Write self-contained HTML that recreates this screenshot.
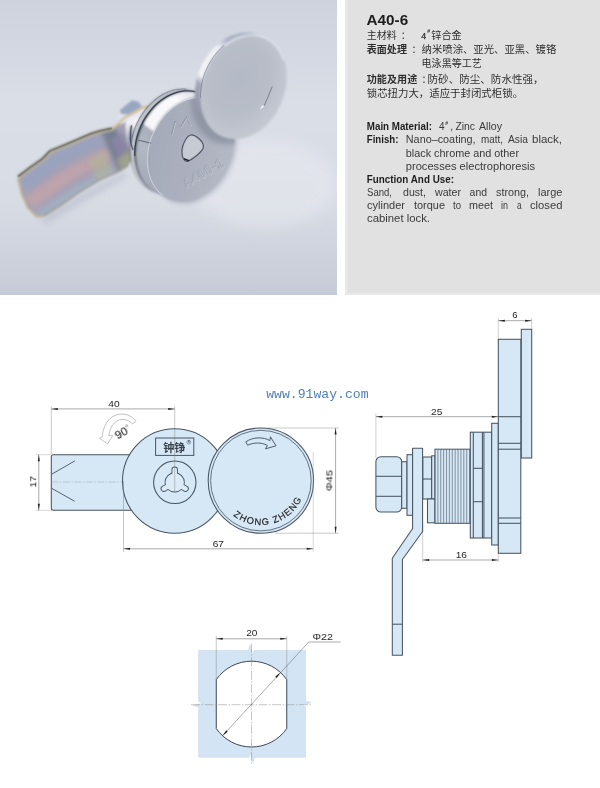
<!DOCTYPE html>
<html lang="zh"><head><meta charset="utf-8"><title>A40-6</title>
<style>
html,body{margin:0;padding:0;background:#fff}
body{width:600px;height:788px;overflow:hidden;position:relative;font-family:"Liberation Sans",sans-serif}
svg{position:absolute;left:0;top:0;display:block}
text{white-space:pre;filter:url(#idf)}
</style></head><body>
<svg width="600" height="788" viewBox="0 0 600 788" style="opacity:0.999">
<defs>
<filter id="idf" x="-5%" y="-50%" width="110%" height="200%" color-interpolation-filters="sRGB"><feOffset dx="0" dy="0"/></filter>

<clipPath id="pc"><rect x="0" y="0" width="337" height="295"/></clipPath>
<linearGradient id="bg" x1="0" y1="0" x2="0" y2="1">
 <stop offset="0" stop-color="#cdd2dd"/><stop offset="0.15" stop-color="#d2d7e1"/>
 <stop offset="0.35" stop-color="#dadee7"/><stop offset="0.68" stop-color="#d8dce5"/>
 <stop offset="0.81" stop-color="#d0d5df"/><stop offset="0.93" stop-color="#cacfda"/><stop offset="1" stop-color="#c5cad6"/>
</linearGradient>
<filter id="b1" x="-10%" y="-10%" width="120%" height="120%"><feGaussianBlur stdDeviation="0.8"/></filter>
<filter id="b2" x="-30%" y="-30%" width="160%" height="160%"><feGaussianBlur stdDeviation="2"/></filter>
<filter id="b3" x="-30%" y="-30%" width="160%" height="160%"><feGaussianBlur stdDeviation="3.5"/></filter>
<filter id="b6" x="-40%" y="-40%" width="180%" height="180%"><feGaussianBlur stdDeviation="7"/></filter>
<linearGradient id="face1" x1="0.1" y1="0.6" x2="1" y2="0.4">
 <stop offset="0" stop-color="#a6abba"/><stop offset="0.5" stop-color="#acb0be"/><stop offset="1" stop-color="#b4b9c5"/>
</linearGradient>
<radialGradient id="face2" cx="0.42" cy="0.45" r="0.62">
 <stop offset="0" stop-color="#b4b9c6"/><stop offset="0.55" stop-color="#b8bdc8"/><stop offset="1" stop-color="#c6cad3"/>
</radialGradient>
<linearGradient id="rim1" gradientUnits="userSpaceOnUse" x1="172" y1="92" x2="150" y2="195">
 <stop offset="0" stop-color="#dfe2ea"/><stop offset="0.15" stop-color="#fafafc"/><stop offset="0.51" stop-color="#f6f7f9"/>
 <stop offset="0.525" stop-color="#a9aebc"/><stop offset="0.7" stop-color="#b3b8c4"/><stop offset="1" stop-color="#a3a8b7"/>
</linearGradient>
<linearGradient id="rim2" gradientUnits="userSpaceOnUse" x1="228" y1="32" x2="205" y2="125">
 <stop offset="0" stop-color="#a9b1c4"/><stop offset="0.2" stop-color="#aab2c5"/><stop offset="0.32" stop-color="#eef0f4"/><stop offset="0.66" stop-color="#f2f3f6"/><stop offset="0.74" stop-color="#a2a7b6"/><stop offset="1" stop-color="#9095a5"/>
</linearGradient>
<linearGradient id="cyl" gradientUnits="userSpaceOnUse" x1="140" y1="105" x2="150" y2="158">
 <stop offset="0" stop-color="#dfe2e9"/><stop offset="0.3" stop-color="#f0f1f5"/><stop offset="0.55" stop-color="#b5bac6"/><stop offset="0.8" stop-color="#8f95a3"/><stop offset="1" stop-color="#a8adb9"/>
</linearGradient>
<clipPath id="lf"><ellipse cx="190.8" cy="149.5" rx="41.5" ry="54.5" transform="rotate(24 190.8 149.5)"/></clipPath>
<clipPath id="camc"><path id="camp" d="M18 176 L30 167 L42 158.5 L50 150 L66 143.5 L90 133.3 L100 130 L112 127.5 L117 125 L124 118 L130 116 C126 128 127 146 133 158 L128 166 L120 171 L100 180 L80 192 L60 206 L44 216 Q38 218.5 35 216 L27 208 L21 194 L17.5 181 Z"/></clipPath>

<path id="zz" d="M233.14 515.50 A44.60 44.60 0 0 0 301.32 499.45"/>
</defs>
<g clip-path="url(#pc)"><rect x="0" y="0" width="337" height="295" fill="url(#bg)"/><ellipse cx="265" cy="185" rx="70" ry="45" fill="#fff" opacity="0.22" filter="url(#b6)"/><ellipse cx="193" cy="151.5" rx="41.5" ry="54.5" transform="rotate(24 193 151.5)" fill="#8d93a5" opacity="0.4" filter="url(#b2)"/><path d="M40 219 L80 195 L125 172 L128 176 L82 202 L46 223 Z" fill="#9aa0b2" opacity="0.4" filter="url(#b3)"/><g filter="url(#b1)"><use href="#camp" fill="#a5a1b4"/><g clip-path="url(#camc)"><path d="M20 180 L60 150 L100 134 L104 144 L60 166 L26 192 Z" fill="#9aa3bd" filter="url(#b2)"/><path d="M24 198 L64 170 L108 148 L112 158 L70 182 L34 208 Z" fill="#bda3ab" filter="url(#b2)"/><path d="M34 213 L74 187 L112 166 L116 174 L60 207 L40 219 Z" fill="#a3adc0" filter="url(#b2)"/><path d="M88 160 L104 150 L112 172 L96 181 Z" fill="#b4b496" opacity="0.6" filter="url(#b2)"/><path d="M101 131 L114 127 L134 158 L118 171 Z" fill="#6f7d90" opacity="0.9" filter="url(#b2)"/><path d="M110 140 L124 132 L131 150 L120 160 Z" fill="#8e86a6" opacity="0.8" filter="url(#b2)"/><path d="M116 160 L130 150 L134 160 L122 170 Z" fill="#b0b188" opacity="0.7" filter="url(#b2)"/></g><path d="M18 176.5 L30 167.5 L42 159 L50 150.8 L66 144.3 L90 134 L100 130.8 L112 128.2" fill="none" stroke="#7f7f6c" stroke-width="2.4" stroke-linejoin="round"/><path d="M19 178.6 L31 169.6 L43 161.1 L51 152.8 L67 146.2 L91 136 L101 132.8 L112.6 130.2" fill="none" stroke="#cbbf9e" stroke-width="1.1" stroke-linejoin="round"/><path d="M18 177 L21.5 194 L27.5 207.5 L35.5 215.8 Q38.5 218 44 215.6" fill="none" stroke="#c4b993" stroke-width="1.8" stroke-linejoin="round"/><path d="M44 216 L60 206 L80 192 L100 180 L120 171 L128 166" fill="none" stroke="#98967c" stroke-width="1.2" opacity="0.9"/><path d="M119.8 110.2 L132 100.3 L139 102 L142 107 L128.5 114.5 L121.5 114 Z" fill="#98a7c0"/><path d="M118 115 L128.5 114.5 L142 107 L146 112 L122 124 L116 124 Z" fill="#dfe2ea"/><path d="M126 122 C132 112 146 105.5 165 106 L154 150 C146 158 139 161 133.5 159 C128 150 124 134 126 122 Z" fill="url(#cyl)"/><path d="M131.5 125.5 C129.5 135 130.5 144 133 150" fill="none" stroke="#3e4658" stroke-width="1.5"/><path d="M136 118 C134 130 134.5 143 137 152" fill="none" stroke="#f6f7f9" stroke-width="2.6" opacity="0.9"/><path d="M112.6 128.6 L117 125 L124 118 L136.7 111.3 L141 108.2 L152 105.3" fill="none" stroke="#d3bd96" stroke-width="2.4" stroke-linejoin="round" stroke-linecap="round"/><ellipse cx="174.3" cy="141.5" rx="41.5" ry="54.5" transform="rotate(24 174.3 141.5)" fill="#39414f"/><ellipse cx="175.0" cy="141.8" rx="41.5" ry="54.5" transform="rotate(24 175.0 141.8)" fill="#d3d7e0"/><ellipse cx="178.0" cy="143.0" rx="41.5" ry="54.5" transform="rotate(24 178.0 143.0)" fill="#2b3342"/><ellipse cx="179.9" cy="144" rx="41.5" ry="54.5" transform="rotate(24 179.9 144)" fill="url(#rim1)"/><ellipse cx="190.8" cy="149.5" rx="41.5" ry="54.5" transform="rotate(24 190.8 149.5)" fill="url(#face1)"/><g clip-path="url(#lf)"><ellipse cx="236" cy="90" rx="43" ry="56" transform="rotate(22.5 236 90)" fill="#7f8595" opacity="0.6" filter="url(#b2)"/></g><path d="M190.5 135 C195 134 203 141 203.5 146 C204 151 192 160 187 161.5 C182 161 181 152 182.5 147 C184 142 187 136 190.5 135 Z" fill="#c6cad3"/></g><path d="M134.70 155.47 L134.75 151.19 L135.09 146.86 L135.73 142.50 L136.67 138.15 L137.90 133.84 L139.41 129.59 L141.18 125.44 L143.21 121.41 L145.49 117.53 L147.99 113.83 L150.70 110.33 L153.61 107.06 L156.68 104.04 L159.91 101.29 L163.27 98.83 L166.73 96.67 L170.27 94.84 L173.87 93.34 L177.50 92.18 L181.14 91.38 L184.76 90.93 L188.34 90.84 L191.85 91.11 L195.28 91.75" fill="none" stroke="#2b3342" stroke-width="1.3" opacity="0.85" stroke-linecap="round"/><path d="M131.94 138.08 L132.79 134.66 L133.82 131.26 L135.02 127.91 L136.39 124.62 L137.92 121.40 L139.61 118.27 L141.44 115.23 L143.42 112.31 L145.53 109.51 L147.76 106.85 L150.10 104.34 L152.55 101.99 L155.09 99.80 L157.72 97.80 L160.41 95.98 L163.17 94.36 L165.97 92.94 L168.81 91.72 L171.67 90.72 L174.54 89.94 L177.41 89.38 L180.27 89.04 L183.10 88.93 L185.90 89.04" fill="none" stroke="#4a5263" stroke-width="0.7" opacity="0.7" stroke-linecap="round"/><path d="M138.5 140.2 L151 143.2" stroke="#4b5262" stroke-width="0.9" fill="none" opacity="0.85"/><path d="M162.61 195.27 L158.91 192.01 L155.65 188.16 L152.88 183.77 L150.63 178.91 L148.94 173.64 L147.83 168.04 L147.32 162.18 L147.41 156.14 L148.10 150.01 L149.38 143.88 L151.24 137.82 L153.64 131.92 L156.56 126.27 L159.96 120.94 L163.78 116.01 L167.98 111.54 L172.49 107.59 L177.26 104.23 L182.21 101.50 L187.29 99.43 L192.41 98.05 L197.51 97.39 L202.52 97.45 L207.36 98.23" fill="none" stroke="#e4e6ec" stroke-width="0.8" opacity="0.8"/><path d="M131.5 125.5 C129.5 135 130.5 144 133 150" fill="none" stroke="#3e4658" stroke-width="1.2" opacity="0.8"/><path d="M18 176.5 L30 167.5 L42 159 L50 150.8 L66 144.3 L90 134 L100 130.8 L112 128.2" fill="none" stroke="#77776a" stroke-width="1.4" stroke-linejoin="round" opacity="0.75"/><path d="M171.5 135 L175 121.5 L180.5 127 L186.5 117 L190.5 125" fill="none" stroke="#8a90a0" stroke-width="1.2" stroke-linejoin="round" opacity="0.8"/><path d="M172.3 135.8 L175.8 122.3 L181.3 127.8 L187.3 117.8 L191.3 125.8" fill="none" stroke="#d0d3dc" stroke-width="0.7" stroke-linejoin="round" opacity="0.8"/><path d="M190.5 135 C195 134 203 141 203.5 146 C204 151 192 160 187 161.5 C182 161 181 152 182.5 147 C184 142 187 136 190.5 135 Z" fill="none" stroke="#454b5a" stroke-width="1.2" opacity="0.9"/><path d="M184 158.8 L189 160.8" stroke="#22262e" stroke-width="1.5" fill="none"/><g transform="translate(185.5 187.5) rotate(-29)" opacity="0.85"><text x="0" y="0" font-family="Liberation Sans, sans-serif" font-size="12" font-weight="bold" fill="none" stroke="#8f95a5" stroke-width="0.7" textLength="44">A400-1</text><text x="0.7" y="0.7" font-family="Liberation Sans, sans-serif" font-size="12" font-weight="bold" fill="none" stroke="#ccd0da" stroke-width="0.4" textLength="44">A400-1</text></g><g filter="url(#b1)"><ellipse cx="237.8" cy="85" rx="41.1" ry="54.2" transform="rotate(22.5 237.8 85)" fill="url(#rim2)"/><ellipse cx="243.6" cy="86.7" rx="41.1" ry="54.2" transform="rotate(22.5 243.6 86.7)" fill="url(#face2)"/><path d="M224.82 45.77 L227.55 43.65 L230.37 41.74 L233.24 40.05 L236.17 38.60 L239.14 37.38 L242.13 36.42 L245.12 35.70 L248.11 35.23 L251.07 35.02 L254.00 35.07 L256.88 35.38 L259.69 35.94 L262.42 36.75 L265.06 37.81 L267.59 39.11 L270.00 40.65 L272.28 42.42 L274.41 44.42 L276.40 46.62 L278.22 49.02 L279.87 51.60 L281.33 54.36 L282.61 57.29 L283.70 60.36" fill="none" stroke="#e6e8ee" stroke-width="1.6" opacity="0.9"/></g><path d="M200.44 98.10 L200.44 95.71 L200.54 93.30 L200.72 90.88 L201.00 88.44 L201.37 86.00 L201.84 83.57 L202.39 81.14 L203.03 78.72 L203.76 76.32 L204.58 73.94 L205.48 71.59 L206.47 69.28 L207.53 67.00 L208.67 64.76 L209.89 62.57 L211.18 60.43 L212.54 58.35 L213.97 56.33 L215.47 54.38 L217.02 52.50 L218.63 50.69 L220.30 48.96 L222.01 47.31 L223.77 45.74" fill="none" stroke="#757b8e" stroke-width="0.8" opacity="0.85"/><path d="M272.3 86.5 L264.2 105.8" stroke="#737989" stroke-width="1.0" fill="none" opacity="0.9"/><path d="M264.4 106 L259.6 110 L262.0 105.4 Z" fill="#f6f6f8"/></g>
<rect x="345" y="0" width="255" height="295" fill="#e1e1e1"/>
<rect x="345" y="0" width="2.6" height="295" fill="#e8e8e8"/>
<rect x="345" y="292.8" width="255" height="2.2" fill="#e8e8e8"/>
<text x="366.60" y="25.20" font-family="Liberation Sans, sans-serif" font-size="15" font-weight="bold" fill="#1c1c1c" text-anchor="start" textLength="41.60" lengthAdjust="spacingAndGlyphs" >A40-6</text>
<text x="366.75" y="39.40" font-family="'Liberation Sans', 'Noto Sans CJK SC', sans-serif" font-size="10" fill="#2e2e2e" text-anchor="start" textLength="29.90" lengthAdjust="spacingAndGlyphs">主材料</text>
<text x="400.81" y="39.40" font-family="'Liberation Sans', 'Noto Sans CJK SC', sans-serif" font-size="10" fill="#2e2e2e" text-anchor="start">：</text>
<text x="421.20" y="38.50" font-family="Liberation Sans, sans-serif" font-size="8.8" font-weight="normal" fill="#2e2e2e" text-anchor="start" stroke="#2e2e2e" stroke-width="0.25">4</text>
<text x="427.20" y="33.20" font-family="Liberation Sans, sans-serif" font-size="5" font-weight="bold" fill="#2e2e2e" text-anchor="start" >#</text>
<text x="431.35" y="39.40" font-family="'Liberation Sans', 'Noto Sans CJK SC', sans-serif" font-size="10" fill="#2e2e2e" text-anchor="start" textLength="30.30" lengthAdjust="spacingAndGlyphs">锌合金</text>
<text x="366.75" y="53.40" font-family="'Liberation Sans', 'Noto Sans CJK SC', sans-serif" font-size="10" font-weight="bold" fill="#2e2e2e" text-anchor="start" textLength="40.20" lengthAdjust="spacingAndGlyphs">表面处理</text>
<text x="411.41" y="53.40" font-family="'Liberation Sans', 'Noto Sans CJK SC', sans-serif" font-size="10" fill="#2e2e2e" text-anchor="start">：</text>
<text x="421.55" y="53.40" font-family="'Liberation Sans', 'Noto Sans CJK SC', sans-serif" font-size="10" fill="#2e2e2e" text-anchor="start" textLength="134.70" lengthAdjust="spacingAndGlyphs">纳米喷涂、亚光、亚黑、镀铬</text>
<text x="421.55" y="67.20" font-family="'Liberation Sans', 'Noto Sans CJK SC', sans-serif" font-size="10" fill="#2e2e2e" text-anchor="start" textLength="60.30" lengthAdjust="spacingAndGlyphs">电泳黑等工艺</text>
<text x="366.75" y="83.40" font-family="'Liberation Sans', 'Noto Sans CJK SC', sans-serif" font-size="10" font-weight="bold" fill="#2e2e2e" text-anchor="start" textLength="50.50" lengthAdjust="spacingAndGlyphs">功能及用途</text>
<text x="421.41" y="83.40" font-family="'Liberation Sans', 'Noto Sans CJK SC', sans-serif" font-size="10" fill="#2e2e2e" text-anchor="start">：</text>
<text x="427.55" y="83.40" font-family="'Liberation Sans', 'Noto Sans CJK SC', sans-serif" font-size="10" fill="#2e2e2e" text-anchor="start" textLength="116.10" lengthAdjust="spacingAndGlyphs">防砂、防尘、防水性强，</text>
<text x="366.75" y="97.40" font-family="'Liberation Sans', 'Noto Sans CJK SC', sans-serif" font-size="10" fill="#2e2e2e" text-anchor="start" textLength="156.30" lengthAdjust="spacingAndGlyphs">锁芯扭力大，适应于封闭式柜锁。</text>
<text x="366.80" y="130.00" font-family="Liberation Sans, sans-serif" font-size="10" font-weight="bold" fill="#1e1e1e" text-anchor="start" textLength="65.20" lengthAdjust="spacingAndGlyphs" >Main Material:</text>
<text x="439.00" y="130.00" font-family="Liberation Sans, sans-serif" font-size="10" font-weight="normal" fill="#3a3a3a" text-anchor="start" >4</text>
<text x="445.30" y="124.60" font-family="Liberation Sans, sans-serif" font-size="5" font-weight="bold" fill="#3a3a3a" text-anchor="start" >#</text>
<text x="450.20" y="130.00" font-family="Liberation Sans, sans-serif" font-size="10" font-weight="normal" fill="#3a3a3a" text-anchor="start" >,</text>
<text x="455.40" y="130.00" font-family="Liberation Sans, sans-serif" font-size="10" font-weight="normal" fill="#3a3a3a" text-anchor="start" textLength="19.60" lengthAdjust="spacingAndGlyphs" >Zinc</text>
<text x="479.00" y="130.00" font-family="Liberation Sans, sans-serif" font-size="10" font-weight="normal" fill="#3a3a3a" text-anchor="start" textLength="23.00" lengthAdjust="spacingAndGlyphs" >Alloy</text>
<text x="366.80" y="143.30" font-family="Liberation Sans, sans-serif" font-size="10" font-weight="bold" fill="#1e1e1e" text-anchor="start" textLength="31.60" lengthAdjust="spacingAndGlyphs" >Finish:</text>
<text x="405.80" y="143.30" font-family="Liberation Sans, sans-serif" font-size="10" font-weight="normal" fill="#3a3a3a" text-anchor="start" textLength="69.80" lengthAdjust="spacingAndGlyphs" >Nano–coating,</text>
<text x="481.00" y="143.30" font-family="Liberation Sans, sans-serif" font-size="10" font-weight="normal" fill="#3a3a3a" text-anchor="start" textLength="22.00" lengthAdjust="spacingAndGlyphs" >matt,</text>
<text x="508.00" y="143.30" font-family="Liberation Sans, sans-serif" font-size="10" font-weight="normal" fill="#3a3a3a" text-anchor="start" textLength="20.00" lengthAdjust="spacingAndGlyphs" >Asia</text>
<text x="532.00" y="143.30" font-family="Liberation Sans, sans-serif" font-size="10" font-weight="normal" fill="#3a3a3a" text-anchor="start" textLength="30.00" lengthAdjust="spacingAndGlyphs" >black,</text>
<text x="405.80" y="156.80" font-family="Liberation Sans, sans-serif" font-size="10" font-weight="normal" fill="#3a3a3a" text-anchor="start" textLength="113.20" lengthAdjust="spacingAndGlyphs" >black chrome and other</text>
<text x="405.80" y="170.20" font-family="Liberation Sans, sans-serif" font-size="10" font-weight="normal" fill="#3a3a3a" text-anchor="start" textLength="129.20" lengthAdjust="spacingAndGlyphs" >processes electrophoresis</text>
<text x="366.80" y="183.00" font-family="Liberation Sans, sans-serif" font-size="10" font-weight="bold" fill="#1e1e1e" text-anchor="start" textLength="87.20" lengthAdjust="spacingAndGlyphs" >Function And Use:</text>
<text x="367.00" y="196.00" font-family="Liberation Sans, sans-serif" font-size="10" font-weight="normal" fill="#3a3a3a" text-anchor="start" textLength="25.00" lengthAdjust="spacingAndGlyphs" >Sand,</text>
<text x="403.00" y="196.00" font-family="Liberation Sans, sans-serif" font-size="10" font-weight="normal" fill="#3a3a3a" text-anchor="start" textLength="23.00" lengthAdjust="spacingAndGlyphs" >dust,</text>
<text x="435.00" y="196.00" font-family="Liberation Sans, sans-serif" font-size="10" font-weight="normal" fill="#3a3a3a" text-anchor="start" textLength="26.00" lengthAdjust="spacingAndGlyphs" >water</text>
<text x="469.60" y="196.00" font-family="Liberation Sans, sans-serif" font-size="10" font-weight="normal" fill="#3a3a3a" text-anchor="start" textLength="17.40" lengthAdjust="spacingAndGlyphs" >and</text>
<text x="496.00" y="196.00" font-family="Liberation Sans, sans-serif" font-size="10" font-weight="normal" fill="#3a3a3a" text-anchor="start" textLength="33.00" lengthAdjust="spacingAndGlyphs" >strong,</text>
<text x="538.00" y="196.00" font-family="Liberation Sans, sans-serif" font-size="10" font-weight="normal" fill="#3a3a3a" text-anchor="start" textLength="24.40" lengthAdjust="spacingAndGlyphs" >large</text>
<text x="367.00" y="209.00" font-family="Liberation Sans, sans-serif" font-size="10" font-weight="normal" fill="#3a3a3a" text-anchor="start" textLength="38.00" lengthAdjust="spacingAndGlyphs" >cylinder</text>
<text x="414.00" y="209.00" font-family="Liberation Sans, sans-serif" font-size="10" font-weight="normal" fill="#3a3a3a" text-anchor="start" textLength="31.00" lengthAdjust="spacingAndGlyphs" >torque</text>
<text x="453.00" y="209.00" font-family="Liberation Sans, sans-serif" font-size="10" font-weight="normal" fill="#3a3a3a" text-anchor="start" textLength="8.00" lengthAdjust="spacingAndGlyphs" >to</text>
<text x="469.00" y="209.00" font-family="Liberation Sans, sans-serif" font-size="10" font-weight="normal" fill="#3a3a3a" text-anchor="start" textLength="24.00" lengthAdjust="spacingAndGlyphs" >meet</text>
<text x="501.00" y="209.00" font-family="Liberation Sans, sans-serif" font-size="10" font-weight="normal" fill="#3a3a3a" text-anchor="start" textLength="7.00" lengthAdjust="spacingAndGlyphs" >in</text>
<text x="517.00" y="209.00" font-family="Liberation Sans, sans-serif" font-size="10" font-weight="normal" fill="#3a3a3a" text-anchor="start" textLength="4.60" lengthAdjust="spacingAndGlyphs" >a</text>
<text x="530.00" y="209.00" font-family="Liberation Sans, sans-serif" font-size="10" font-weight="normal" fill="#3a3a3a" text-anchor="start" textLength="32.40" lengthAdjust="spacingAndGlyphs" >closed</text>
<text x="367.00" y="221.80" font-family="Liberation Sans, sans-serif" font-size="10" font-weight="normal" fill="#3a3a3a" text-anchor="start" textLength="63.00" lengthAdjust="spacingAndGlyphs" >cabinet lock.</text>
<text x="266.20" y="398.00" font-family="Liberation Mono, sans-serif" font-size="13.1" font-weight="normal" fill="#4f7fb3" text-anchor="start" textLength="102.40" lengthAdjust="spacingAndGlyphs" >www.91way.com</text>
<path d="M178 454.7 H53.3 Q51.3 454.7 51.3 456.7 V508.3 Q51.3 510.3 53.3 510.3 H178 Z" fill="#d6e7f6" stroke="#485563" stroke-width="1.05" />
<line x1="51.30" y1="482.00" x2="124.00" y2="482.00" stroke="#9aa4ad" stroke-width="0.5" stroke-dasharray="7 1.5 1.5 1.5"/>
<line x1="51.70" y1="474.20" x2="75.00" y2="460.80" stroke="#485563" stroke-width="0.9" />
<line x1="51.70" y1="488.30" x2="74.70" y2="501.30" stroke="#485563" stroke-width="0.9" />
<circle cx="174.70" cy="481.00" r="52.20" fill="#d6e7f6" stroke="#485563" stroke-width="1.05"/>
<circle cx="260.90" cy="480.60" r="52.70" fill="#d6e7f6" stroke="#485563" stroke-width="1.05"/>
<circle cx="260.90" cy="480.60" r="50.30" fill="#d6e7f6" stroke="#485563" stroke-width="0.8"/>
<circle cx="174.80" cy="482.30" r="21.20" fill="#d6e7f6" stroke="#485563" stroke-width="1.05"/>
<g fill="none" stroke="#485563" stroke-width="1.8" stroke-linecap="round"><circle cx="174.70" cy="482.40" r="9.2"/><line x1="174.70" y1="482.40" x2="174.70" y2="469.80" stroke-width="6.4"/><line x1="174.70" y1="482.40" x2="163.79" y2="488.70" stroke-width="6.4"/><line x1="174.70" y1="482.40" x2="185.61" y2="488.70" stroke-width="6.4"/></g>
<g fill="#dcebf8" stroke="#dcebf8" stroke-linecap="round"><circle cx="174.70" cy="482.40" r="9.2" stroke="none"/><line x1="174.70" y1="482.40" x2="174.70" y2="469.80" stroke-width="4.6"/><line x1="174.70" y1="482.40" x2="163.79" y2="488.70" stroke-width="4.6"/><line x1="174.70" y1="482.40" x2="185.61" y2="488.70" stroke-width="4.6"/></g>
<rect x="155.60" y="438.00" width="38.20" height="17.40" rx="0" fill="#d6e7f6" stroke="#485563" stroke-width="1.0"/>
<text x="163.31" y="451.60" font-family="'Liberation Sans', 'Noto Sans CJK SC', sans-serif" font-size="11.6" font-weight="bold" fill="#39424c" text-anchor="start" textLength="22.10" lengthAdjust="spacingAndGlyphs">钟铮</text>
<circle cx="188.8" cy="442.2" r="1.9" fill="none" stroke="#55606b" stroke-width="0.5"/>
<text x="188.80" y="443.30" font-family="Liberation Sans, sans-serif" font-size="3" font-weight="bold" fill="#55606b" text-anchor="middle" >R</text>
<line x1="51.30" y1="406.50" x2="51.30" y2="454.00" stroke="#777" stroke-width="0.4" />
<line x1="174.70" y1="406.50" x2="174.70" y2="491.50" stroke="#777" stroke-width="0.4" />
<line x1="51.30" y1="408.90" x2="174.70" y2="408.90" stroke="#555" stroke-width="0.5" />
<path d="M51.30 408.90 L57.80 407.90 L57.80 409.90 Z" fill="#222"/>
<path d="M174.70 408.90 L168.20 409.90 L168.20 407.90 Z" fill="#222"/>
<text x="114.00" y="407.40" font-family="Liberation Sans, sans-serif" font-size="9.5" font-weight="normal" fill="#262626" text-anchor="middle" textLength="11.40" lengthAdjust="spacingAndGlyphs" >40</text>
<line x1="35.80" y1="454.70" x2="51.30" y2="454.70" stroke="#999" stroke-width="0.4" />
<line x1="35.80" y1="510.30" x2="51.30" y2="510.30" stroke="#999" stroke-width="0.4" />
<line x1="38.80" y1="454.70" x2="38.80" y2="510.30" stroke="#555" stroke-width="0.5" />
<path d="M38.80 454.70 L39.80 461.20 L37.80 461.20 Z" fill="#222"/>
<path d="M38.80 510.30 L37.80 503.80 L39.80 503.80 Z" fill="#222"/>
<g transform="translate(36.2 481.7) rotate(-90)"><text x="0.00" y="0.00" font-family="Liberation Sans, sans-serif" font-size="9.6" font-weight="normal" fill="#1a1a1a" text-anchor="middle" textLength="11.30" lengthAdjust="spacingAndGlyphs" >17</text></g>
<line x1="123.50" y1="481.00" x2="123.50" y2="551.70" stroke="#777" stroke-width="0.4" />
<line x1="313.20" y1="452.00" x2="313.20" y2="551.70" stroke="#999" stroke-width="0.4" />
<line x1="123.50" y1="548.80" x2="313.20" y2="548.80" stroke="#555" stroke-width="0.5" />
<path d="M123.50 548.80 L130.00 547.80 L130.00 549.80 Z" fill="#222"/>
<path d="M313.20 548.80 L306.70 549.80 L306.70 547.80 Z" fill="#222"/>
<text x="218.30" y="547.40" font-family="Liberation Sans, sans-serif" font-size="9.5" font-weight="normal" fill="#262626" text-anchor="middle" textLength="11.30" lengthAdjust="spacingAndGlyphs" >67</text>
<line x1="268.00" y1="428.00" x2="338.80" y2="428.00" stroke="#777" stroke-width="0.4" />
<line x1="275.00" y1="533.20" x2="338.80" y2="533.20" stroke="#777" stroke-width="0.4" />
<line x1="335.60" y1="428.00" x2="335.60" y2="533.20" stroke="#555" stroke-width="0.5" />
<path d="M335.60 428.00 L336.60 434.50 L334.60 434.50 Z" fill="#222"/>
<path d="M335.60 533.20 L334.60 526.70 L336.60 526.70 Z" fill="#222"/>
<g transform="translate(332.4 480.6) rotate(-90)"><text x="0.00" y="0.00" font-family="Liberation Sans, sans-serif" font-size="9.5" font-weight="normal" fill="#262626" text-anchor="middle" textLength="21.00" lengthAdjust="spacingAndGlyphs" >Φ45</text></g>
<path d="M134.6 422.6 L135.80 420.50 Q131.70 416.30 127.95 415.00 Q124.20 413.70 120.00 414.15 Q115.80 414.60 112.50 416.70 Q109.20 418.80 106.80 422.55 Q104.40 426.30 103.50 429.65 Q102.60 433.00 102.40 435.00 L102.20 437.00 L99.6 438.3 L107.5 443.9 L112.9 435.4 L108.80 435.60 Q109.30 432.20 110.50 428.90 Q111.70 425.60 114.20 423.15 Q116.70 420.70 119.60 419.80 Q122.50 418.90 125.40 419.65 Q128.30 420.40 130.40 422.10 L132.50 423.80 Z" fill="#fff" stroke="#96989c" stroke-width="0.6" stroke-linejoin="round"/>
<g transform="translate(121.8 432.7) rotate(-30)"><text x="-0.60" y="3.90" font-family="Liberation Sans, sans-serif" font-size="11" font-weight="normal" fill="#222" text-anchor="middle" textLength="12.60" lengthAdjust="spacingAndGlyphs" stroke="#222" stroke-width="0.15">90</text><text x="6.00" y="1.40" font-family="Liberation Sans, sans-serif" font-size="8" font-weight="normal" fill="#333" text-anchor="start" >°</text></g>
<path d="M245.8 441.8 C253 437 263 436.6 270 440.6 L270.4 436.8 L276 445.8 L265.6 448.8 L267.4 445.4 C261 442 253.5 442.5 247.6 445.2 Z" fill="#d6e7f6" stroke="#485563" stroke-width="0.95" stroke-linejoin="round"/>
<text font-family="Liberation Sans, sans-serif" font-size="9.4" fill="#222" stroke="#222" stroke-width="0.15"><textPath href="#zz" textLength="80.57" lengthAdjust="spacing">ZHONG ZHENG</textPath></text>
<line x1="375.90" y1="413.50" x2="375.90" y2="458.00" stroke="#888" stroke-width="0.4" />
<line x1="422.70" y1="523.00" x2="422.70" y2="562.00" stroke="#888" stroke-width="0.4" />
<line x1="498.30" y1="553.00" x2="498.30" y2="562.00" stroke="#888" stroke-width="0.4" />
<line x1="498.30" y1="318.00" x2="498.30" y2="339.30" stroke="#888" stroke-width="0.4" />
<line x1="531.70" y1="318.00" x2="531.70" y2="329.30" stroke="#888" stroke-width="0.4" />
<rect x="375.90" y="456.70" width="25.80" height="55.30" rx="5" fill="#d6e7f6" stroke="#485563" stroke-width="1.05"/>
<line x1="375.90" y1="476.30" x2="401.70" y2="476.30" stroke="#485563" stroke-width="1.05" />
<line x1="375.90" y1="496.30" x2="401.70" y2="496.30" stroke="#485563" stroke-width="1.05" />
<rect x="401.70" y="461.70" width="5.30" height="46.60" rx="0" fill="#d6e7f6" stroke="#485563" stroke-width="1.05"/>
<rect x="407.00" y="454.70" width="5.60" height="60.60" rx="0" fill="#d6e7f6" stroke="#485563" stroke-width="1.05"/>
<rect x="422.80" y="457.00" width="8.90" height="42.00" rx="0" fill="#d6e7f6" stroke="#485563" stroke-width="1.05"/>
<line x1="422.80" y1="479.00" x2="431.70" y2="479.00" stroke="#485563" stroke-width="1.05" />
<rect x="431.70" y="455.80" width="3.30" height="43.20" rx="0" fill="#d6e7f6" stroke="#485563" stroke-width="1.05"/>
<rect x="427.50" y="499.00" width="7.50" height="23.80" rx="0" fill="#d6e7f6" stroke="#485563" stroke-width="1.05"/>
<rect x="435.00" y="449.20" width="35.30" height="74.10" rx="0" fill="#d6e7f6" stroke="#485563" stroke-width="1.05"/>
<path d="M437.88 449.2 V523.3 M440.76 449.2 V523.3 M443.64 449.2 V523.3 M446.52 449.2 V523.3 M449.40 449.2 V523.3 M452.28 449.2 V523.3 M455.16 449.2 V523.3 M458.04 449.2 V523.3 M460.92 449.2 V523.3 M463.80 449.2 V523.3 M466.68 449.2 V523.3 M469.56 449.2 V523.3" stroke="#6c7a88" stroke-width="0.8" fill="none"/>
<rect x="470.30" y="432.20" width="21.40" height="105.80" rx="0" fill="#d6e7f6" stroke="#485563" stroke-width="1.05"/>
<line x1="473.30" y1="432.20" x2="473.30" y2="538.00" stroke="#485563" stroke-width="1.05" />
<line x1="482.40" y1="432.20" x2="482.40" y2="538.00" stroke="#485563" stroke-width="1.05" />
<line x1="483.90" y1="432.20" x2="483.90" y2="538.00" stroke="#485563" stroke-width="1.05" />
<line x1="473.30" y1="468.30" x2="482.40" y2="468.30" stroke="#485563" stroke-width="1.05" />
<line x1="473.30" y1="501.70" x2="482.40" y2="501.70" stroke="#485563" stroke-width="1.05" />
<rect x="491.70" y="423.30" width="6.60" height="121.70" rx="0" fill="#d6e7f6" stroke="#485563" stroke-width="1.05"/>
<rect x="521.30" y="329.30" width="10.40" height="128.70" rx="0" fill="#d6e7f6" stroke="#485563" stroke-width="1.05"/>
<rect x="498.30" y="339.30" width="22.50" height="214.00" rx="0" fill="#d6e7f6" stroke="#485563" stroke-width="1.05"/>
<line x1="498.30" y1="416.70" x2="520.80" y2="416.70" stroke="#485563" stroke-width="1.05" />
<line x1="498.30" y1="443.30" x2="520.80" y2="443.30" stroke="#485563" stroke-width="1.05" />
<line x1="498.30" y1="449.20" x2="520.80" y2="449.20" stroke="#485563" stroke-width="1.05" />
<line x1="498.30" y1="518.00" x2="520.80" y2="518.00" stroke="#485563" stroke-width="1.05" />
<line x1="498.30" y1="523.30" x2="520.80" y2="523.30" stroke="#485563" stroke-width="1.05" />
<path d="M412.6 448.3 H422.6 V531.5 L402.4 559.5 V655.3 H392.3 V558.2 L412.6 528.5 Z" fill="#d6e7f6" stroke="#485563" stroke-width="1.05" stroke-linejoin="round"/>
<line x1="392.30" y1="624.20" x2="402.40" y2="624.20" stroke="#485563" stroke-width="1.05" />
<line x1="498.30" y1="320.70" x2="531.70" y2="320.70" stroke="#555" stroke-width="0.5" />
<path d="M498.30 320.70 L504.80 319.70 L504.80 321.70 Z" fill="#222"/>
<path d="M531.70 320.70 L525.20 321.70 L525.20 319.70 Z" fill="#222"/>
<text x="515.00" y="318.40" font-family="Liberation Sans, sans-serif" font-size="9.5" font-weight="normal" fill="#262626" text-anchor="middle" >6</text>
<line x1="375.90" y1="416.70" x2="498.30" y2="416.70" stroke="#555" stroke-width="0.5" />
<path d="M375.90 416.70 L382.40 415.70 L382.40 417.70 Z" fill="#222"/>
<path d="M498.30 416.70 L491.80 417.70 L491.80 415.70 Z" fill="#222"/>
<text x="436.70" y="415.00" font-family="Liberation Sans, sans-serif" font-size="9.5" font-weight="normal" fill="#262626" text-anchor="middle" textLength="11.30" lengthAdjust="spacingAndGlyphs" >25</text>
<line x1="422.70" y1="560.00" x2="498.30" y2="560.00" stroke="#555" stroke-width="0.5" />
<path d="M422.70 560.00 L429.20 559.00 L429.20 561.00 Z" fill="#222"/>
<path d="M498.30 560.00 L491.80 561.00 L491.80 559.00 Z" fill="#222"/>
<text x="461.30" y="558.30" font-family="Liberation Sans, sans-serif" font-size="9.5" font-weight="normal" fill="#262626" text-anchor="middle" textLength="11.30" lengthAdjust="spacingAndGlyphs" >16</text>
<path d="M198.70 650.50 H248.50 l1.6 -5.5 l2.4 10 l1.6 -4.5 H305.50 V701.10 l5.5 1.6 l-10 2.4 l4.5 1.6 V757.20 H254.50 l-1.6 5.5 l-2.4 -10 l-1.6 4.5 H198.70 V707.10 l-5.5 -1.6 l10 -2.4 l-4.5 -1.6 Z" fill="#d3e5f5" stroke="#c3d3e0" stroke-width="0.5"/>
<path d="M216.25 679.65 A42.90 42.90 0 0 1 286.75 679.65 V728.55 A42.90 42.90 0 0 1 216.25 728.55 Z" fill="#fff" stroke="#3d4650" stroke-width="1.0"/>
<line x1="251.50" y1="643.80" x2="251.50" y2="763.80" stroke="#777" stroke-width="0.4" stroke-dasharray="9 1.5 1.5 1.5"/>
<line x1="191.00" y1="704.70" x2="311.00" y2="704.70" stroke="#777" stroke-width="0.4" stroke-dasharray="9 1.5 1.5 1.5"/>
<line x1="216.25" y1="636.00" x2="216.25" y2="679.65" stroke="#777" stroke-width="0.4" />
<line x1="286.75" y1="636.00" x2="286.75" y2="679.65" stroke="#777" stroke-width="0.4" />
<line x1="216.25" y1="638.80" x2="286.75" y2="638.80" stroke="#555" stroke-width="0.5" />
<path d="M216.25 638.80 L222.75 637.80 L222.75 639.80 Z" fill="#222"/>
<path d="M286.75 638.80 L280.25 639.80 L280.25 637.80 Z" fill="#222"/>
<text x="251.80" y="635.60" font-family="Liberation Sans, sans-serif" font-size="9.5" font-weight="normal" fill="#262626" text-anchor="middle" textLength="11.20" lengthAdjust="spacingAndGlyphs" >20</text>
<line x1="222.56" y1="735.77" x2="308.75" y2="642.00" stroke="#555" stroke-width="0.5" />
<line x1="308.75" y1="642.00" x2="340.50" y2="642.00" stroke="#555" stroke-width="0.5" />
<path d="M222.56 735.77 L226.20 730.29 L227.68 731.64 Z" fill="#222"/>
<path d="M280.44 672.43 L276.80 677.91 L275.32 676.56 Z" fill="#222"/>
<text x="312.50" y="639.60" font-family="Liberation Sans, sans-serif" font-size="9.5" font-weight="normal" fill="#262626" text-anchor="start" textLength="20.50" lengthAdjust="spacingAndGlyphs" >Φ22</text>
</svg>
</body></html>
